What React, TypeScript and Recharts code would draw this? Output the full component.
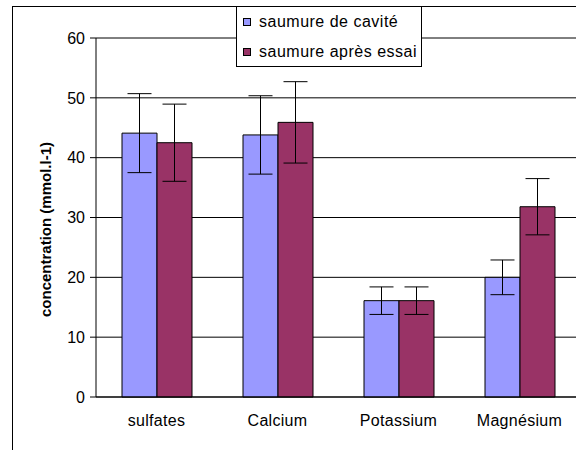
import React from "react"
import {
  BarChart, Bar, XAxis, YAxis, CartesianGrid, ErrorBar, Legend,
} from "recharts"

const categories = ["sulfates", "Calcium", "Potassium", "Magnésium"]
const cavite     = [44.1, 43.8, 16.1, 20.0]
const caviteErr  = [6.6, 6.55, 2.3, 2.9]
const essai      = [42.5, 45.9, 16.1, 31.8]
const essaiErr   = [6.45, 6.8, 2.3, 4.7]
const yTicks     = [0, 10, 20, 30, 40, 50, 60]
const edgeTicks  = [0, 1, 2, 3, 4]
const seriesOrder = ["cavite", "essai"]

const C = {
  cavite: "#9999FF",
  essai:  "#993366",
}

const FONT = "'Liberation Sans', Arial, sans-serif"

const data = categories.map((name, i) => ({
  name,
  cavite:    cavite[i],
  caviteErr: caviteErr[i],
  essai:     essai[i],
  essaiErr:  essaiErr[i],
}))

function LegendBox({ payload }: any) {
  const items = [...(payload ?? [])].sort(
    (a: any, b: any) => seriesOrder.indexOf(a.dataKey) - seriesOrder.indexOf(b.dataKey)
  )
  return (
    <div style={{
      position: "relative", width: 184, height: 59, border: "1px solid #000", background: "#fff",
      fontFamily: FONT, fontSize: 16, letterSpacing: 0.5, color: "#000",
    }}>
      {items.map((p: any, i: number) => (
        <div key={p.value} style={{
          position: "absolute", left: 6, top: i === 0 ? 6 : 36, height: 18,
          display: "flex", alignItems: "center", whiteSpace: "nowrap",
        }}>
          <div style={{ width: 6, height: 6, border: "1px solid #000", background: p.color, marginRight: 8 }} />
          <span>{p.value}</span>
        </div>
      ))}
    </div>
  )
}

export default function App() {
  return (
    <div style={{ position: "fixed", left: 0, top: 0, width: 576, height: 450, overflow: "hidden", background: "#fff" }}>
      {/* outer frame: only the left and top edges fall inside the picture */}
      <div style={{ position: "absolute", left: 12, top: 6, width: 1, height: 444, background: "#000" }} />
      <div style={{ position: "absolute", left: 12, top: 6, width: 564, height: 1, background: "#000" }} />
      <div style={{ position: "absolute", left: 0, top: 0, width: 576, height: 450, overflow: "hidden" }}>
        <BarChart
          width={600}
          height={450}
          data={data}
          margin={{ top: 38, right: 20, bottom: 0, left: 0 }}
          barCategoryGap={26}
          barGap={0}
          style={{ fontFamily: FONT }}
        >
          <CartesianGrid vertical={false} stroke="#000" strokeWidth={1} />
          <XAxis
            xAxisId="edge"
            type="number"
            domain={[0, 4]}
            ticks={edgeTicks}
            allowDataOverflow
            height={0}
            tick={false}
            tickSize={4}
            axisLine={false}
            tickLine={{ stroke: "#000" }}
          />
          <XAxis
            xAxisId="cat"
            dataKey="name"
            height={53}
            axisLine={{ stroke: "#000" }}
            tickLine={false}
            tickSize={0}
            tickMargin={18}
            tick={{ fill: "#000", fontSize: 16, fontFamily: FONT, letterSpacing: 0.3 }}
          />
          <YAxis
            domain={[0, 60]}
            ticks={yTicks}
            width={96}
            axisLine={{ stroke: "#000" }}
            tickLine={{ stroke: "#000" }}
            tickSize={6}
            tickMargin={5}
            tick={{ fill: "#000", fontSize: 16, fontFamily: FONT }}
            label={{
              value: "concentration (mmol.l-1)", angle: -90, position: "center", dx: -2, dy: 12,
              style: { fontWeight: "bold", fontSize: 15, fill: "#000", fontFamily: FONT },
            }}
          />
          <Legend
            layout="vertical"
            align="center"
            verticalAlign="middle"
            content={<LegendBox />}
            wrapperStyle={{ position: "absolute", left: 236, top: 6, width: 186, height: 61 }}
          />
          <Bar xAxisId="cat" dataKey="cavite" name="saumure de cavité" fill={C.cavite} stroke="#000" strokeWidth={1} isAnimationActive={false}>
            <ErrorBar dataKey="caviteErr" width={12} stroke="#000" strokeWidth={1} isAnimationActive={false} />
          </Bar>
          <Bar xAxisId="cat" dataKey="essai" name="saumure après essai" fill={C.essai} stroke="#000" strokeWidth={1} isAnimationActive={false}>
            <ErrorBar dataKey="essaiErr" width={12} stroke="#000" strokeWidth={1} isAnimationActive={false} />
          </Bar>
        </BarChart>
      </div>
    </div>
  )
}
